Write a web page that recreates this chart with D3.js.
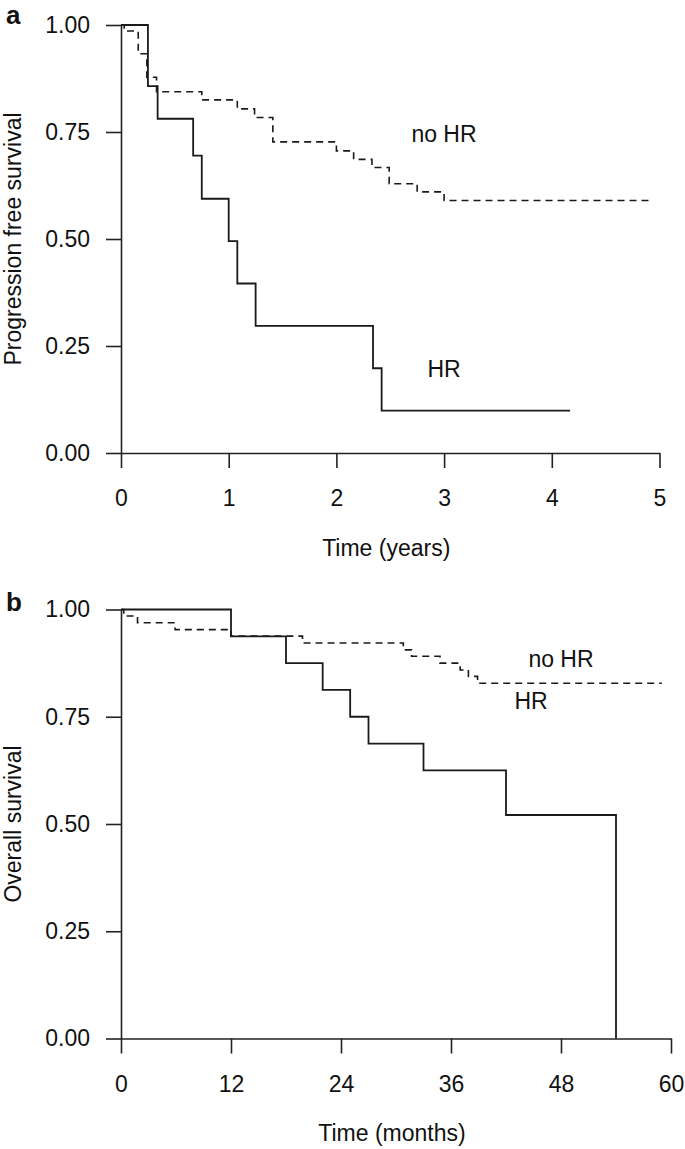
<!DOCTYPE html>
<html>
<head>
<meta charset="utf-8">
<script src="https://cdn.jsdelivr.net/npm/d3@7"></script>
<style>
  html, body { margin: 0; padding: 0; background: #fff; }
  svg { display: block; }
  text { font-family: "Liberation Sans", Arial, Helvetica, sans-serif; fill: #111; }
</style>
</head>
<body>
<svg id="chart" width="685" height="1149"></svg>
<script>
// ---------- Data ----------
// Panel a: progression free survival (years)
const pfsTicksX = [0, 1, 2, 3, 4, 5];
const survTicksY = [0, 0.25, 0.5, 0.75, 1];
const pfsHRTime   = [0, 0.25, 0.34, 0.67, 0.75, 1.00, 1.08, 1.25, 2.34, 2.42, 4.17];
const pfsHRSurv   = [1, 0.857, 0.781, 0.695, 0.594, 0.495, 0.396, 0.297, 0.198, 0.099, 0.099];
const pfsNoHRTime = [0, 0.03, 0.16, 0.24, 0.33, 0.75, 1.08, 1.24, 1.41, 2.00, 2.16, 2.33, 2.49, 2.75, 3.00, 4.92];
const pfsNoHRSurv = [1, 0.986, 0.933, 0.878, 0.844, 0.825, 0.804, 0.784, 0.727, 0.706, 0.686, 0.667, 0.629, 0.610, 0.590, 0.590];

// Panel b: overall survival (months)
const osTicksX = [0, 12, 24, 36, 48, 60];
const osHRTime   = [0, 12, 18, 22, 25, 27, 33, 42, 54, 54];
const osHRSurv   = [1, 0.9375, 0.875, 0.8125, 0.75, 0.6875, 0.625, 0.521, 0, 0];
const osNoHRTime = [0, 0.3, 1.8, 5.9, 12, 19.8, 30.8, 31.7, 34.8, 37.0, 37.9, 38.9, 59];
const osNoHRSurv = [1, 0.985, 0.969, 0.953, 0.938, 0.922, 0.906, 0.891, 0.875, 0.859, 0.844, 0.828, 0.828];

// ---------- Drawing ----------
const svg = d3.select("#chart");
const FS = 23;

function panel(cfg) {
  const g = svg.append("g");
  const x = d3.scaleLinear().domain(cfg.xDomain).range(cfg.xRange);
  const y = d3.scaleLinear().domain([0, 1]).range(cfg.yRange);

  // y axis
  const ya = g.append("g").attr("transform", `translate(${cfg.xRange[0]},0)`)
    .call(d3.axisLeft(y).tickValues(survTicksY).tickFormat(d3.format(".2f"))
      .tickSize(15).tickSizeOuter(0).tickPadding(16));
  // x axis
  const xa = g.append("g").attr("transform", `translate(0,${cfg.yRange[0]})`)
    .call(d3.axisBottom(x).tickValues(cfg.xTicks).tickFormat(d3.format("d"))
      .tickSize(15).tickSizeOuter(0).tickPadding(22));
  [ya, xa].forEach(a => {
    a.selectAll("path.domain").attr("stroke", "#222").attr("stroke-width", 1.6);
    a.selectAll(".tick line").attr("stroke", "#222").attr("stroke-width", 1.6);
    a.selectAll(".tick text").attr("font-size", FS).style("font-family", '"Liberation Sans", Arial, sans-serif').attr("fill", "#111");
  });

  const line = d3.line().x(d => x(d[0])).y(d => y(d[1])).curve(d3.curveStepAfter);

  g.append("path")
    .datum(cfg.hrT.map((t, i) => [t, cfg.hrS[i]]))
    .attr("d", line).attr("fill", "none").attr("stroke", "#1a1a1a").attr("stroke-width", 1.8);
  g.append("path")
    .datum(cfg.noT.map((t, i) => [t, cfg.noS[i]]))
    .attr("d", line).attr("fill", "none").attr("stroke", "#1a1a1a").attr("stroke-width", 1.6)
    .attr("stroke-dasharray", "7,5");

  // y label
  const yc = (cfg.yRange[0] + cfg.yRange[1]) / 2;
  g.append("text").attr("transform", `translate(21,${yc}) rotate(-90)`)
    .attr("text-anchor", "middle").attr("font-size", FS).text(cfg.yLabel);
  // x label
  g.append("text").attr("x", (cfg.xRange[0] + cfg.xRange[1]) / 2 - 4).attr("y", cfg.xLabelY)
    .attr("text-anchor", "middle").attr("font-size", FS).text(cfg.xLabel);
  // panel letter
  g.append("text").attr("x", 6).attr("y", cfg.letterY).attr("font-size", 26)
    .attr("font-weight", "bold").text(cfg.letter);
  // curve labels
  cfg.labels.forEach(l => {
    g.append("text").attr("x", l.x).attr("y", l.y).attr("text-anchor", "middle")
      .attr("font-size", FS).text(l.text);
  });
}

panel({
  xDomain: [0, 5], xRange: [121, 659.5], yRange: [453, 25], xTicks: pfsTicksX,
  hrT: pfsHRTime, hrS: pfsHRSurv, noT: pfsNoHRTime, noS: pfsNoHRSurv,
  yLabel: "Progression free survival", xLabel: "Time (years)", xLabelY: 556,
  letter: "a", letterY: 24,
  labels: [{ text: "no HR", x: 444, y: 142 }, { text: "HR", x: 444, y: 377 }]
});

panel({
  xDomain: [0, 60], xRange: [121, 671], yRange: [1038.5, 609.5], xTicks: osTicksX,
  hrT: osHRTime, hrS: osHRSurv, noT: osNoHRTime, noS: osNoHRSurv,
  yLabel: "Overall survival", xLabel: "Time (months)", xLabelY: 1141,
  letter: "b", letterY: 611,
  labels: [{ text: "no HR", x: 561, y: 667 }, { text: "HR", x: 531, y: 709 }]
});
</script>
</body>
</html>
